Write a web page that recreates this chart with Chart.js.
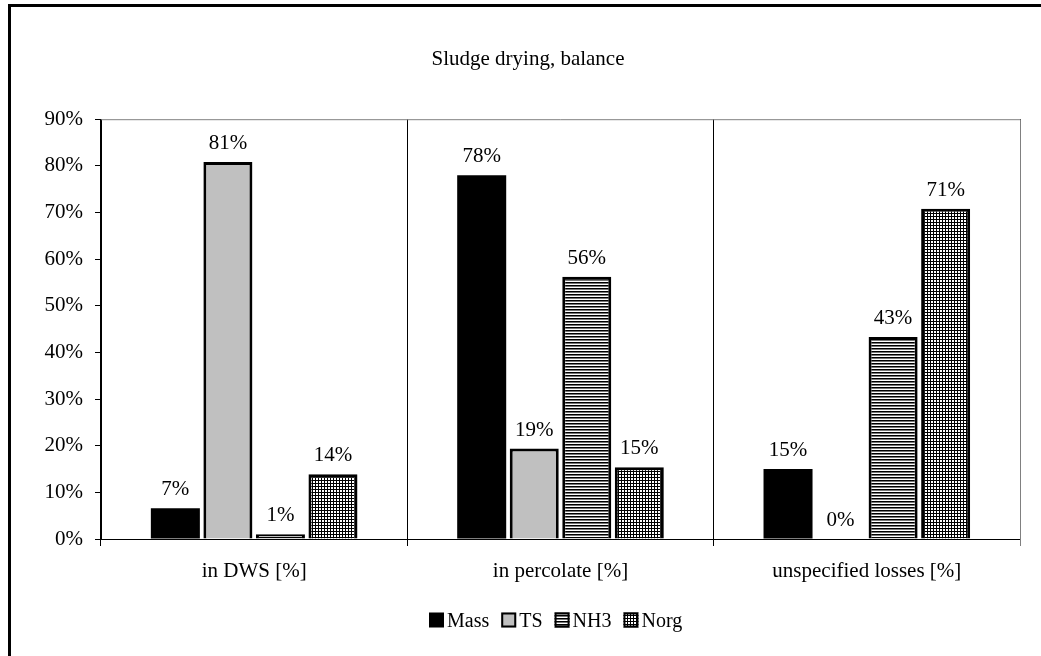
<!DOCTYPE html>
<html>
<head>
<meta charset="utf-8">
<script src="https://cdn.jsdelivr.net/npm/chart.js@4/dist/chart.umd.min.js"></script>
<style>
  html, body { margin: 0; padding: 0; background: #fff; }
  #wrap { width: 1041px; height: 656px; position: relative; }
</style>
</head>
<body>
<div id="wrap"><canvas id="c" width="1041" height="656"></canvas></div>
<script>
// ---- data ----
const categories = ['in DWS [%]', 'in percolate [%]', 'unspecified losses [%]'];
const seriesNames = ['Mass', 'TS', 'NH3', 'Norg'];
const massValues = [6.6, 78.0, 15.0];
const tsValues = [80.8, 19.4, 0.0];
const nh3Values = [1.0, 56.2, 43.3];
const norgValues = [13.9, 15.4, 70.8];
const yTicks = [0, 10, 20, 30, 40, 50, 60, 70, 80, 90];

// ---- patterns ----
function stripePattern() {
  const c = document.createElement('canvas');
  c.width = 3; c.height = 3;
  const x = c.getContext('2d');
  x.fillStyle = '#fff'; x.fillRect(0, 0, 3, 3);
  x.fillStyle = '#000'; x.fillRect(0, 0, 3, 1);
  x.fillStyle = '#777'; x.fillRect(0, 1, 3, 1);
  return x.createPattern(c, 'repeat');
}
function gridPattern() {
  const c = document.createElement('canvas');
  c.width = 3; c.height = 3;
  const x = c.getContext('2d');
  x.fillStyle = '#fff'; x.fillRect(0, 0, 3, 3);
  x.fillStyle = '#000'; x.fillRect(0, 0, 3, 1); x.fillRect(0, 0, 1, 3);
  return x.createPattern(c, 'repeat');
}
const ctx = document.getElementById('c').getContext('2d');
const stripes = stripePattern();
const grid = gridPattern();

const FONT = "'Liberation Serif', 'Times New Roman', serif";

const frameAndLabels = {
  id: 'frameAndLabels',
  beforeDraw(chart) {
    const c = chart.ctx;
    c.save();
    c.fillStyle = '#fff';
    c.fillRect(0, 0, chart.width, chart.height);
    c.restore();
  },
  afterDatasetsDraw(chart) {
    const c = chart.ctx;
    c.save();
    c.font = '21px ' + FONT;
    c.fillStyle = '#000';
    c.textAlign = 'center';
    c.textBaseline = 'alphabetic';
    chart.data.datasets.forEach((ds, di) => {
      const meta = chart.getDatasetMeta(di);
      meta.data.forEach((bar, i) => {
        const v = ds.data[i];
        c.fillText(Math.round(v) + '%', bar.x, bar.y - 13);
      });
    });
    c.restore();
  },
  afterDraw(chart) {
    const c = chart.ctx;
    const a = chart.chartArea;
    c.save();
    // plot-area top and right border
    c.strokeStyle = '#808080';
    c.lineWidth = 1;
    c.beginPath();
    c.moveTo(a.left, a.top + 0.5);
    c.lineTo(a.right + 0.5, a.top + 0.5);
    c.lineTo(a.right + 0.5, a.bottom + 7);
    c.stroke();

    // legend
    c.font = '20px ' + FONT;
    c.textBaseline = 'alphabetic';
    c.textAlign = 'left';
    const box = 15, gap = 3, itemGap = 12;
    const items = chart.data.datasets.map(ds => ({ ds, w: box + gap + c.measureText(ds.label).width }));
    const total = items.reduce((s, it) => s + it.w, 0) + itemGap * (items.length - 1);
    let x = Math.round(556 - total / 2);
    const cy = 621;
    items.forEach(it => {
      const ds = it.ds;
      const bx = x, by = cy - box / 2 - 1;
      c.fillStyle = ds.backgroundColor;
      c.fillRect(bx, by, box, box);
      if (ds.borderWidth > 0) {
        c.strokeStyle = '#000';
        c.lineWidth = 2;
        c.strokeRect(bx + 1, by + 1, box - 2, box - 2);
      }
      c.fillStyle = '#000';
      c.fillText(ds.label, bx + box + gap, cy + 6);
      x += it.w + itemGap;
    });

    // outer frame
    c.strokeStyle = '#000';
    c.lineWidth = 3;
    c.strokeRect(9.5, 5.5, 1100, 700);
    c.restore();
  }
};

new Chart(ctx, {
  type: 'bar',
  data: {
    labels: categories,
    datasets: [
      { label: seriesNames[0], data: massValues, backgroundColor: '#000', borderColor: '#000', borderWidth: 0 },
      { label: seriesNames[1], data: tsValues, backgroundColor: '#C0C0C0', borderColor: '#000', borderWidth: 3 },
      { label: seriesNames[2], data: nh3Values, backgroundColor: stripes, borderColor: '#000', borderWidth: 3 },
      { label: seriesNames[3], data: norgValues, backgroundColor: grid, borderColor: '#000', borderWidth: 3 }
    ]
  },
  options: {
    responsive: false,
    animation: false,
    devicePixelRatio: 1,
    layout: { padding: { left: 36, right: 21, top: 0, bottom: 57 } },
    datasets: { bar: { categoryPercentage: 0.686, barPercentage: 0.933 } },
    plugins: {
      title: {
        display: true,
        text: 'Sludge drying, balance',
        color: '#000',
        font: { family: FONT, size: 21, weight: 'normal' },
        padding: { top: 47, bottom: 47 }
      },
      legend: { display: false },
      tooltip: { enabled: false }
    },
    scales: {
      x: {
        offset: true,
        grid: { display: true, offset: true, color: '#000', lineWidth: 1, tickLength: 7, drawOnChartArea: true },
        border: { display: true, color: '#000', width: 1 },
        ticks: { color: '#000', font: { family: FONT, size: 21 }, padding: 13, maxRotation: 0 },
        afterFit(s) { s.height = 60; }
      },
      y: {
        min: 0, max: 90,
        afterBuildTicks(s) { s.ticks = yTicks.map(v => ({ value: v })); },
        grid: { display: true, drawOnChartArea: false, color: '#000', tickLength: 6 },
        border: { display: true, color: '#000', width: 1 },
        ticks: { color: '#000', font: { family: FONT, size: 21 }, padding: 12, callback: v => v + '%' },
        afterFit(s) { s.width = 65; }
      }
    }
  },
  plugins: [frameAndLabels]
});
</script>
</body>
</html>
